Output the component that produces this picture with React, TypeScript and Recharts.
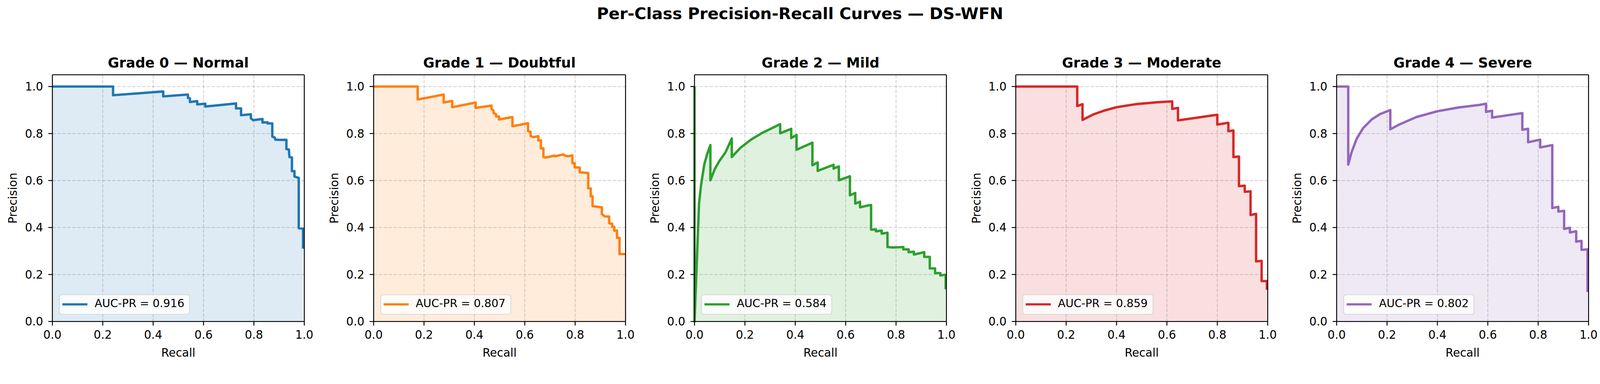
import { ComposedChart, Area, Line, XAxis, YAxis, CartesianGrid, ReferenceLine } from 'recharts'

const FIG_W = 4338
const FIG_H = 984
const PANEL_STEP = 870.6
const CHART_W = 871
const FONT = '"DejaVu Sans", sans-serif'

const CLASS_NAMES = ['Grade 0 — Normal', 'Grade 1 — Doubtful', 'Grade 2 — Mild', 'Grade 3 — Moderate', 'Grade 4 — Severe']
const AUC_PR = [0.916, 0.807, 0.584, 0.859, 0.802]
const COLORS = ['#1f77b4', '#ff7f0e', '#2ca02c', '#d62728', '#9467bd']
const TICKS = [0, 0.2, 0.4, 0.6, 0.8, 1.0]

// recall / precision pairs
const RECALL_0 = [0, 0.241, 0.241, 0.44, 0.44, 0.538, 0.538, 0.546, 0.546, 0.575, 0.575, 0.607, 0.607, 0.729, 0.729, 0.749, 0.749, 0.788, 0.788, 0.797, 0.834, 0.834, 0.854, 0.854, 0.873, 0.873, 0.883, 0.885, 0.910, 0.929, 0.929, 0.939, 0.941, 0.951, 0.951, 0.961, 0.961, 0.978, 0.978, 0.995, 0.995]
const PRECISION_0 = [1, 1, 0.963, 0.979, 0.958, 0.966, 0.952, 0.950, 0.934, 0.938, 0.924, 0.927, 0.915, 0.928, 0.907, 0.907, 0.878, 0.882, 0.865, 0.857, 0.862, 0.847, 0.848, 0.843, 0.843, 0.787, 0.783, 0.774, 0.773, 0.773, 0.734, 0.732, 0.700, 0.698, 0.640, 0.640, 0.617, 0.611, 0.397, 0.395, 0.310]

const RECALL_1 = [0, 0.175, 0.175, 0.278, 0.278, 0.312, 0.312, 0.405, 0.405, 0.468, 0.468, 0.476, 0.476, 0.486, 0.486, 0.498, 0.498, 0.551, 0.551, 0.613, 0.613, 0.623, 0.623, 0.635, 0.654, 0.654, 0.664, 0.664, 0.674, 0.674, 0.686, 0.718, 0.720, 0.754, 0.759, 0.772, 0.789, 0.789, 0.798, 0.798, 0.818, 0.818, 0.852, 0.852, 0.862, 0.862, 0.869, 0.869, 0.906, 0.906, 0.918, 0.935, 0.935, 0.947, 0.947, 0.955, 0.955, 0.966, 0.966, 0.976, 0.976, 1.0]
const PRECISION_1 = [1, 1, 0.945, 0.966, 0.932, 0.939, 0.912, 0.932, 0.909, 0.919, 0.905, 0.897, 0.888, 0.882, 0.873, 0.872, 0.860, 0.870, 0.831, 0.844, 0.810, 0.807, 0.789, 0.785, 0.789, 0.771, 0.771, 0.737, 0.737, 0.700, 0.698, 0.706, 0.703, 0.711, 0.706, 0.703, 0.707, 0.674, 0.674, 0.656, 0.655, 0.635, 0.632, 0.567, 0.566, 0.533, 0.533, 0.491, 0.486, 0.457, 0.447, 0.447, 0.418, 0.416, 0.403, 0.403, 0.387, 0.387, 0.356, 0.356, 0.287, 0.287]

const RECALL_2 = [0, 0, 0.018, 0.026, 0.039, 0.051, 0.063, 0.063, 0.081, 0.098, 0.123, 0.148, 0.148, 0.182, 0.224, 0.266, 0.308, 0.340, 0.340, 0.384, 0.384, 0.405, 0.405, 0.468, 0.468, 0.489, 0.489, 0.552, 0.552, 0.573, 0.573, 0.617, 0.617, 0.638, 0.638, 0.657, 0.657, 0.685, 0.701, 0.701, 0.720, 0.720, 0.743, 0.743, 0.766, 0.766, 0.787, 0.829, 0.829, 0.850, 0.850, 0.871, 0.871, 0.912, 0.912, 0.934, 0.934, 0.955, 0.955, 0.976, 0.976, 0.997, 0.997]
const PRECISION_2 = [1, 0, 0.502, 0.581, 0.670, 0.715, 0.751, 0.601, 0.650, 0.682, 0.720, 0.779, 0.700, 0.739, 0.774, 0.801, 0.823, 0.840, 0.801, 0.820, 0.781, 0.794, 0.731, 0.761, 0.665, 0.677, 0.641, 0.667, 0.651, 0.660, 0.601, 0.618, 0.537, 0.547, 0.502, 0.510, 0.486, 0.493, 0.496, 0.391, 0.392, 0.384, 0.387, 0.374, 0.378, 0.317, 0.315, 0.317, 0.307, 0.307, 0.295, 0.297, 0.285, 0.295, 0.275, 0.275, 0.226, 0.226, 0.206, 0.206, 0.196, 0.199, 0.137]

const RECALL_3 = [0, 0.244, 0.244, 0.265, 0.265, 0.307, 0.349, 0.400, 0.476, 0.560, 0.621, 0.621, 0.644, 0.644, 0.800, 0.800, 0.844, 0.844, 0.864, 0.864, 0.886, 0.886, 0.909, 0.909, 0.932, 0.932, 0.954, 0.954, 0.976, 0.976, 0.997, 0.997]
const PRECISION_3 = [1, 1, 0.917, 0.925, 0.858, 0.881, 0.897, 0.912, 0.925, 0.933, 0.937, 0.905, 0.909, 0.856, 0.880, 0.838, 0.846, 0.810, 0.813, 0.700, 0.702, 0.576, 0.578, 0.552, 0.554, 0.453, 0.458, 0.256, 0.258, 0.172, 0.172, 0.135]

const RECALL_4 = [0, 0.046, 0.046, 0.059, 0.080, 0.105, 0.139, 0.173, 0.213, 0.213, 0.248, 0.316, 0.400, 0.484, 0.568, 0.593, 0.593, 0.617, 0.617, 0.737, 0.737, 0.760, 0.760, 0.808, 0.808, 0.856, 0.856, 0.880, 0.880, 0.903, 0.903, 0.926, 0.926, 0.951, 0.951, 0.972, 0.972, 0.996, 0.996]
const PRECISION_4 = [1, 1, 0.668, 0.720, 0.779, 0.823, 0.860, 0.883, 0.900, 0.818, 0.838, 0.870, 0.895, 0.911, 0.922, 0.927, 0.892, 0.897, 0.868, 0.887, 0.816, 0.820, 0.763, 0.774, 0.741, 0.751, 0.483, 0.488, 0.468, 0.471, 0.394, 0.399, 0.379, 0.384, 0.340, 0.343, 0.305, 0.307, 0.125]

const RECALLS = [RECALL_0, RECALL_1, RECALL_2, RECALL_3, RECALL_4]
const PRECISIONS = [PRECISION_0, PRECISION_1, PRECISION_2, PRECISION_3, PRECISION_4]

const tickStyle = { fontSize: 31, fill: '#000', fontFamily: FONT }
const fmt = (v: number) => v.toFixed(1)

function Panel({ index }: { index: number }) {
  const color = COLORS[index]
  const data = RECALLS[index].map((r, i) => ({ r, p: PRECISIONS[index][i] }))

  return (
    <div style={{ position: 'absolute', left: index * PANEL_STEP, top: 0, width: CHART_W, height: FIG_H }}>
      <ComposedChart width={CHART_W} height={FIG_H} data={data} margin={{ top: 203, right: 46, bottom: 0, left: 0 }}>
        <XAxis
          dataKey="r" type="number" domain={[0, 1]} ticks={TICKS} interval={0} tickFormatter={fmt}
          height={111.5} tickSize={11} tickMargin={13.5} tick={tickStyle}
          axisLine={{ stroke: '#000', strokeWidth: 2.5 }} tickLine={{ stroke: '#000', strokeWidth: 2.5 }}
          label={{ value: 'Recall', position: 'insideBottom', offset: 16, style: { fontSize: 31, fill: '#000', fontFamily: FONT } }}
        />
        <YAxis
          type="number" domain={[0, 1.05]} ticks={TICKS} interval={0} tickFormatter={fmt}
          width={142} tickSize={11} tickMargin={14} tick={tickStyle}
          axisLine={{ stroke: '#000', strokeWidth: 2.5 }} tickLine={{ stroke: '#000', strokeWidth: 2.5 }}
          label={{ value: 'Precision', angle: -90, position: 'insideLeft', offset: 35, style: { textAnchor: 'middle', fontSize: 31, fill: '#000', fontFamily: FONT } }}
        />
        <Area dataKey="p" type="linear" stroke="none" fill={color} fillOpacity={0.15} dot={false} activeDot={false} isAnimationActive={false} />
        <CartesianGrid stroke="#b0b0b0" strokeOpacity={0.6} strokeWidth={2.2} strokeDasharray="9.5 4" />
        <Line dataKey="p" type="linear" stroke={color} strokeWidth={6.5} strokeLinejoin="round" dot={false} activeDot={false} isAnimationActive={false} />
        <ReferenceLine y={1.05} stroke="#000" strokeWidth={2.5} />
        <ReferenceLine x={1} stroke="#000" strokeWidth={2.5} />
      </ComposedChart>

      {/* legend box, lower left inside the axes */}
      <div style={{
        position: 'absolute', left: 160, top: 799, width: 355, height: 55, boxSizing: 'border-box',
        border: '2px solid rgba(204,204,204,0.8)', borderRadius: 7, background: 'rgba(255,255,255,0.8)',
      }}>
        <div style={{ position: 'absolute', left: 7, top: 21.5, width: 68, height: 6.5, background: color }} />
        <div style={{
          position: 'absolute', left: 94.5, top: 8, fontSize: 30, lineHeight: '30px', fontFamily: FONT,
          color: '#000', whiteSpace: 'nowrap',
        }}>
          {`AUC-PR = ${AUC_PR[index].toFixed(3)}`}
        </div>
      </div>
    </div>
  )
}

export default function App() {
  // the figure is laid out at 4338x984; shrink it if the viewport turns out smaller
  const vw = typeof window !== 'undefined' ? window.innerWidth : FIG_W
  const vh = typeof window !== 'undefined' ? window.innerHeight : FIG_H
  const s = Math.min(1, vw / FIG_W, vh / FIG_H)

  return (
    <div style={{ position: 'absolute', left: 0, top: 0, width: FIG_W * s, height: FIG_H * s, overflow: 'hidden', background: '#fff' }}>
      <div style={{ position: 'absolute', left: 0, top: 0, width: FIG_W, height: FIG_H, fontFamily: FONT, transform: `scale(${s})`, transformOrigin: '0 0' }}>
        {CLASS_NAMES.map((_, i) => <Panel key={i} index={i} />)}
        <svg width={FIG_W} height={FIG_H} style={{ position: 'absolute', left: 0, top: 0, pointerEvents: 'none' }}>
          <text x={FIG_W / 2} y={51.5} textAnchor="middle" fontFamily={FONT} fontWeight="bold" fontSize={44} fill="#000">
            Per-Class Precision-Recall Curves — DS-WFN
          </text>
          {CLASS_NAMES.map((name, i) => (
            <text key={name} x={483.5 + i * PANEL_STEP} y={183} textAnchor="middle" fontFamily={FONT} fontWeight="bold" fontSize={37.5} fill="#000">
              {name}
            </text>
          ))}
        </svg>
      </div>
    </div>
  )
}
